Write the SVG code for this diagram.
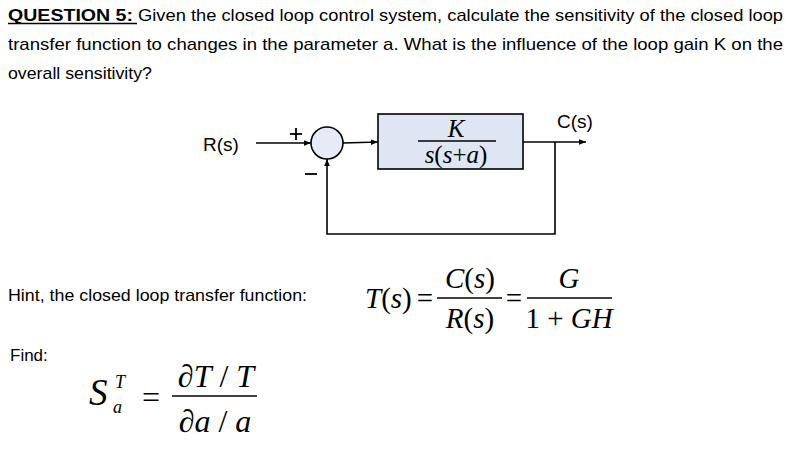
<svg xmlns="http://www.w3.org/2000/svg" width="793" height="460" viewBox="0 0 793 460">
<defs>
<marker id="arr" viewBox="0 0 10 10" refX="10" refY="5" markerWidth="7" markerHeight="7" orient="auto" markerUnits="userSpaceOnUse"><path d="M0,1 L10,5 L0,9 Z" fill="#000"/></marker>
<style>
.t{font-family:"Liberation Sans",Arial,sans-serif;font-size:17px;fill:#000}
.s{font-family:"Liberation Sans",Arial,sans-serif;font-size:19px;fill:#000}
.m{font-family:"Liberation Serif","Times New Roman",serif;fill:#000}
.i{font-style:italic}
.ln{stroke:#000;stroke-width:1.6;fill:none}
</style>
</defs>
<rect width="793" height="460" fill="#fff"/>
<g id="question">
<text class="t" x="8" y="21" font-weight="bold" textLength="125" lengthAdjust="spacingAndGlyphs">QUESTION  5:</text>
<line x1="8" y1="23.5" x2="137" y2="23.5" stroke="#000" stroke-width="1.3"/>
<text class="t" x="138" y="21" textLength="645" lengthAdjust="spacingAndGlyphs">Given the closed loop control system, calculate the sensitivity of the closed loop</text>
<text class="t" x="8" y="50" textLength="775" lengthAdjust="spacingAndGlyphs">transfer function to changes in the parameter a.  What is the influence of the loop gain K on the</text>
<text class="t" x="8" y="79" textLength="144" lengthAdjust="spacingAndGlyphs">overall sensitivity?</text>
</g>
<g id="connectors">
<line class="ln" x1="256" y1="143" x2="311" y2="143" marker-end="url(#arr)"/>
<line class="ln" x1="343" y1="143" x2="378" y2="142" marker-end="url(#arr)"/>
<line class="ln" x1="523" y1="142" x2="586" y2="142" marker-end="url(#arr)"/>
<polyline class="ln" points="555,142 555,234 327,234 327,159" marker-end="url(#arr)"/>
</g>
<g id="input">
<text class="s" x="203" y="151">R(s)</text>
</g>
<g id="sum">
<circle cx="327" cy="143" r="16" fill="#e6ecf5" stroke="#000" stroke-width="1.6"/>
<line x1="290" y1="134" x2="302" y2="134" stroke="#000" stroke-width="1.8"/>
<line x1="296" y1="128" x2="296" y2="140" stroke="#000" stroke-width="1.8"/>
<line x1="305" y1="174" x2="317" y2="174" stroke="#000" stroke-width="1.8"/>
</g>
<g id="plant">
<rect x="378" y="114" width="145" height="55" fill="#dde6f2" stroke="#000" stroke-width="1.6"/>
<text class="m i" x="456" y="137" font-size="25" text-anchor="middle">K</text>
<line x1="418" y1="141" x2="496" y2="141" stroke="#000" stroke-width="1.3"/>
<text class="m" x="456" y="163" font-size="25" text-anchor="middle"><tspan class="i">s</tspan>(<tspan class="i">s</tspan>+<tspan class="i">a</tspan>)</text>
</g>
<g id="output">
<text class="s" x="557" y="128">C(s)</text>
</g>
<g id="hint">
<text class="t" x="8" y="301" textLength="299" lengthAdjust="spacingAndGlyphs">Hint, the closed loop transfer function:</text>
<text class="m" x="365" y="308" font-size="29"><tspan class="i">T</tspan>(<tspan class="i">s</tspan>)</text>
<text class="m" x="425" y="308" font-size="29" text-anchor="middle">=</text>
<text class="m" x="470" y="288" font-size="29" text-anchor="middle"><tspan class="i">C</tspan>(<tspan class="i">s</tspan>)</text>
<line x1="437" y1="298" x2="502" y2="298" stroke="#000" stroke-width="1.3"/>
<text class="m" x="470" y="328" font-size="29" text-anchor="middle"><tspan class="i">R</tspan>(<tspan class="i">s</tspan>)</text>
<text class="m" x="514" y="308" font-size="29" text-anchor="middle">=</text>
<text class="m i" x="569" y="288" font-size="29" text-anchor="middle">G</text>
<line x1="527" y1="298" x2="612" y2="298" stroke="#000" stroke-width="1.3"/>
<text class="m" x="569" y="328" font-size="29" text-anchor="middle">1 + <tspan class="i">GH</tspan></text>
</g>
<g id="find">
<text class="t" x="10" y="361">Find:</text>
<text class="m i" x="89" y="405" font-size="37">S</text>
<text class="m i" x="115" y="388" font-size="18">T</text>
<text class="m i" x="113" y="413" font-size="18">a</text>
<text class="m" x="151" y="408" font-size="32" text-anchor="middle">=</text>
<text class="m" x="216" y="387" font-size="32" text-anchor="middle">∂<tspan class="i">T</tspan> / <tspan class="i">T</tspan></text>
<line x1="172" y1="396" x2="257" y2="396" stroke="#000" stroke-width="1.3"/>
<text class="m" x="215" y="432" font-size="32" text-anchor="middle">∂<tspan class="i">a</tspan> / <tspan class="i">a</tspan></text>
</g>
</svg>
